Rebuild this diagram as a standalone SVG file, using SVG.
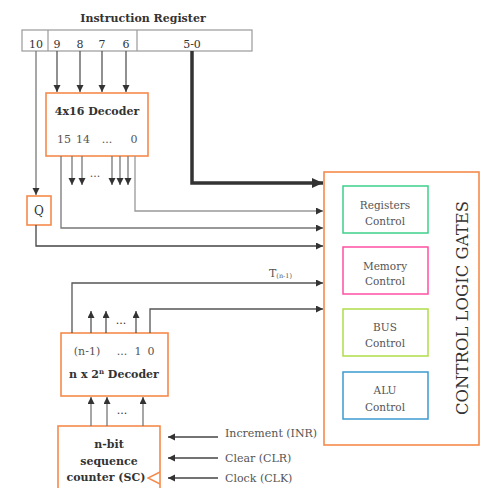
<svg xmlns="http://www.w3.org/2000/svg" width="500" height="488" viewBox="0 0 500 488">
<defs>
<style>
text{font-family:"DejaVu Serif","Liberation Serif",serif;fill:#333}
.b{font-weight:bold}
.t12{font-size:11px}
.g{fill:#555}
.ln{fill:none;stroke:#555;stroke-width:1.3}
.lg{fill:none;stroke:#999;stroke-width:1.3}
.lm{fill:none;stroke:#777;stroke-width:1.3}
.ld{fill:none;stroke:#444;stroke-width:1.3}
.thick{fill:none;stroke:#333;stroke-width:3.5}
.or{fill:#fff;stroke:#f58a4b;stroke-width:1.6}
.in{font-size:10.5px;fill:#555}
</style>
<marker id="ah" markerUnits="userSpaceOnUse" markerWidth="8" markerHeight="8" refX="7" refY="3.5" orient="auto"><path d="M0,0 L7,3.5 L0,7 Z" fill="#333"/></marker>
<marker id="ahb" markerUnits="userSpaceOnUse" markerWidth="12" markerHeight="12" refX="11" refY="5" orient="auto"><path d="M0,0 L11,5 L0,10 Z" fill="#333"/></marker>
</defs>

<g id="instruction-register">
<text x="143" y="22" class="b t12" text-anchor="middle">Instruction Register</text>
<rect x="22" y="30" width="230" height="21" fill="#fff" stroke="#999" stroke-width="1.2"/>
<line x1="48" y1="30" x2="48" y2="51" stroke="#999" stroke-width="1.2"/>
<line x1="137" y1="30" x2="137" y2="51" stroke="#999" stroke-width="1.2"/>
<text x="36" y="48" class="t12" text-anchor="middle">10</text>
<text x="57" y="48" class="t12" text-anchor="middle">9</text>
<text x="80" y="48" class="t12" text-anchor="middle">8</text>
<text x="102" y="48" class="t12" text-anchor="middle">7</text>
<text x="126" y="48" class="t12" text-anchor="middle">6</text>
<text x="192" y="48" class="t12" text-anchor="middle">5-0</text>
</g>

<g id="decoder-4x16">
<rect x="46" y="93" width="102" height="63" class="or"/>
<text x="97" y="115" class="b t12" text-anchor="middle">4x16 Decoder</text>
<text x="64" y="143" class="t12 g" text-anchor="middle">15</text>
<text x="83" y="143" class="t12 g" text-anchor="middle">14</text>
<text x="107" y="143" class="t12 g" text-anchor="middle">...</text>
<text x="134" y="143" class="t12 g" text-anchor="middle">0</text>
</g>

<g id="q-flipflop">
<rect x="27" y="196" width="24" height="29" class="or"/>
<text x="39" y="215" style="font-size:12px" text-anchor="middle">Q</text>
</g>

<g id="control-logic-gates">
<rect x="324" y="172" width="155" height="273" class="or"/>
<text transform="translate(468,308) rotate(-90)" style="font-size:17px" text-anchor="middle" textLength="214" lengthAdjust="spacingAndGlyphs">CONTROL LOGIC GATES</text>
</g>
<g id="registers-control">
<rect x="343" y="186" width="85" height="47" fill="#fff" stroke="#3dd08a" stroke-width="1.5"/>
<text x="385" y="209" class="in" text-anchor="middle">Registers</text>
<text x="385" y="225" class="in" text-anchor="middle">Control</text>
</g>
<g id="memory-control">
<rect x="343" y="247" width="85" height="47" fill="#fff" stroke="#ff4fa3" stroke-width="1.5"/>
<text x="385" y="270" class="in" text-anchor="middle">Memory</text>
<text x="385" y="285" class="in" text-anchor="middle">Control</text>
</g>
<g id="bus-control">
<rect x="343" y="309" width="85" height="47" fill="#fff" stroke="#b0dd48" stroke-width="1.5"/>
<text x="385" y="331" class="in" text-anchor="middle">BUS</text>
<text x="385" y="347" class="in" text-anchor="middle">Control</text>
</g>
<g id="alu-control">
<rect x="343" y="372" width="85" height="47" fill="#fff" stroke="#3d9ad0" stroke-width="1.5"/>
<text x="385" y="394" class="in" text-anchor="middle">ALU</text>
<text x="385" y="411" class="in" text-anchor="middle">Control</text>
</g>

<g id="decoder-n">
<rect x="61" y="333" width="107" height="63" class="or"/>
<text x="87" y="355" class="t12 g" text-anchor="middle">(n-1)</text>
<text x="122" y="355" class="t12 g" text-anchor="middle">...</text>
<text x="138" y="355" class="t12 g" text-anchor="middle">1</text>
<text x="151" y="355" class="t12 g" text-anchor="middle">0</text>
<text x="114" y="378" class="b t12" text-anchor="middle">n x 2<tspan dy="-4" style="font-size:7px">n</tspan><tspan dy="4"> Decoder</tspan></text>
</g>

<g id="sequence-counter">
<rect x="58" y="426" width="102" height="70" class="or"/>
<text x="109" y="448" class="b t12" text-anchor="middle">n-bit</text>
<text x="109" y="465" class="b t12" text-anchor="middle">sequence</text>
<text x="106" y="481" class="b t12" text-anchor="middle">counter (SC)</text>
<path d="M160,472 L148,478 L160,484" fill="none" stroke="#f58a4b" stroke-width="1.4"/>
</g>

<g id="labels">
<text x="225" y="437" class="t12 g">Increment (INR)</text>
<text x="225" y="462" class="t12 g">Clear (CLR)</text>
<text x="225" y="482" class="t12 g">Clock (CLK)</text>
<text x="269" y="277" class="t12 g">T<tspan style="font-size:6.5px" dy="1">(n-1)</tspan></text>
<text x="95" y="177" class="t12 g" text-anchor="middle">...</text>
<text x="121" y="324" class="t12" text-anchor="middle">...</text>
<text x="122" y="414" class="t12" text-anchor="middle">...</text>
</g>

<g id="connectors">
<line x1="57" y1="51" x2="57" y2="92" class="ln" marker-end="url(#ah)"/>
<line x1="80" y1="51" x2="80" y2="92" class="ln" marker-end="url(#ah)"/>
<line x1="102" y1="51" x2="102" y2="92" class="ln" marker-end="url(#ah)"/>
<line x1="126" y1="51" x2="126" y2="92" class="ln" marker-end="url(#ah)"/>
<line x1="36" y1="51" x2="36" y2="195" class="lm" marker-end="url(#ah)"/>
<path d="M192,51 V183 H323" class="thick" marker-end="url(#ahb)"/>
<path d="M135,156 V211 H323" class="lg" marker-end="url(#ah)"/>
<path d="M61,156 V228 H323" class="lm" marker-end="url(#ah)"/>
<path d="M36,225 V246 H323" class="ld" marker-end="url(#ah)"/>
<line x1="72" y1="156" x2="72" y2="185" class="lm" marker-end="url(#ah)"/>
<line x1="82" y1="156" x2="82" y2="185" class="lm" marker-end="url(#ah)"/>
<line x1="112" y1="156" x2="112" y2="185" class="lm" marker-end="url(#ah)"/>
<line x1="120" y1="156" x2="120" y2="185" class="lm" marker-end="url(#ah)"/>
<line x1="128" y1="156" x2="128" y2="185" class="lm" marker-end="url(#ah)"/>
<path d="M72,333 V283 H323" class="ln" marker-end="url(#ah)"/>
<path d="M150,333 V309 H323" class="ln" marker-end="url(#ah)"/>
<line x1="91" y1="333" x2="91" y2="311" class="ln" marker-end="url(#ah)"/>
<line x1="106" y1="333" x2="106" y2="311" class="ln" marker-end="url(#ah)"/>
<line x1="136" y1="333" x2="136" y2="311" class="ln" marker-end="url(#ah)"/>
<line x1="91" y1="426" x2="91" y2="397" class="lm" marker-end="url(#ah)"/>
<line x1="107" y1="426" x2="107" y2="397" class="lm" marker-end="url(#ah)"/>
<line x1="143" y1="426" x2="143" y2="397" class="lm" marker-end="url(#ah)"/>
<line x1="218" y1="437" x2="168" y2="437" class="ld" marker-end="url(#ah)"/>
<line x1="218" y1="458" x2="168" y2="458" class="ld" marker-end="url(#ah)"/>
<line x1="218" y1="478" x2="168" y2="478" class="ld" marker-end="url(#ah)"/>
</g>
</svg>
